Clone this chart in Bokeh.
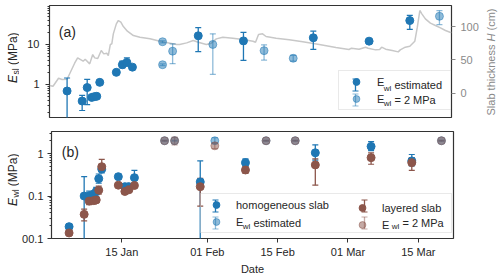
import numpy as np
import pandas as pd
from bokeh.plotting import figure
from bokeh.models import (ColumnDataSource, Whisker, TeeHead, Range1d, LinearAxis, LinearScale,
                          FixedTicker, PrintfTickFormatter, DatetimeTickFormatter, Label,
                          Legend, LegendItem)
from bokeh.layouts import column, row
from bokeh.embed import file_html
from bokeh.resources import INLINE

# ---------------- data ----------------
T0 = pd.Timestamp("2019-01-01")
T_END_DAYS = 80

# slab thickness H (cm), days since 1 Jan
h_day = [0.0, 0.7, 1.8, 2.5, 3.5, 5.0, 5.6, 6.7, 7.1, 8.0, 8.6, 9.0, 9.6, 10.3, 10.8, 11.4, 11.7,
         12.1, 12.4, 12.7, 13.3, 13.7, 14.2, 14.7, 15.5, 16.7, 18.0, 20.0, 22.0, 24.0, 25.3, 25.9,
         27.3, 28.6, 29.6, 31.2, 32.2, 33.2, 34.5, 36.5, 38.5, 40.5, 41.0, 41.6, 42.4, 43.1, 45.1,
         47.7, 50.4, 53.7, 57.0, 59.6, 60.1, 61.6, 62.9, 63.4, 64.9, 65.7, 66.1, 66.9, 68.2, 69.4,
         69.8, 70.8, 71.7, 72.7, 73.2, 73.7, 74.1, 74.8, 75.8, 76.8, 77.8, 78.8, 79.7, 80.0]
h_cm = [11.6, 10.5, 22.5, 20.5, 21, 45, 53, 48, 51, 44, 58, 53, 52, 64, 59, 60, 56.5,
        73, 74, 89, 104, 109, 106.5, 100, 93, 86.5, 84, 81.5, 78, 75, 73, 73,
        75.5, 79, 76.5, 73, 75, 81.5, 84, 82.5, 80.5, 78, 76.5, 88, 89, 85, 82.5,
        80, 77, 73, 68.5, 65.5, 67.5, 66, 69, 67.5, 65, 65.5, 69, 66, 64, 62,
        65, 69, 70.5, 78, 99, 124, 119, 111.5, 105, 101.5, 98, 94, 91.5, 91]

# (a) E_sl with E_wl estimated
sl_est_day = [3.5, 6.5, 7.5, 8.4, 8.9, 9.4, 10.0, 13.3, 14.5, 15.4, 16.5, 29.6, 38.6, 52.5, 63.6, 71.7]
sl_est = [0.68, 0.38, 0.83, 0.47, 0.49, 0.50, 1.12, 2.0, 3.1, 3.55, 2.7, 16.5, 12.3, 14.7, 12.1, 39.8]
sl_est_lo = [0.05, 0.22, 0.31, 0.43, 0.46, 0.47, 1.05, 1.9, 2.6, 2.9, 2.4, 6.6, 4.0, 7.5, 11.6, 24]
sl_est_hi = [1.44, 0.53, 1.33, 0.52, 0.53, 0.54, 1.2, 2.1, 3.8, 4.6, 3.1, 26.6, 20, 21.5, 12.7, 54]

# (a) E_sl with E_wl = 2 MPa
sl_fix_day = [22.5, 22.5, 24.5, 32.5, 42.7, 48.5, 77.6]
sl_fix = [11.7, 3.1, 6.8, 10.0, 7.0, 4.5, 51]
sl_fix_lo = [11.0, 2.95, 3.3, 1.78, 4.06, 3.8, 31.6]
sl_fix_hi = [12.4, 3.25, 10.4, 18.5, 9.8, 5.3, 71]

# (b) E_wl homogeneous / layered slab
wl_day = [3.5, 6.5, 7.5, 8.4, 8.9, 9.4, 10.0, 13.3, 14.6, 15.4, 16.5, 29.6, 38.6, 52.5, 63.6, 71.7]
wl_hom = [0.019, 0.10, 0.10, 0.11, 0.128, 0.256, 0.43, 0.285, 0.166, 0.166, 0.27, 0.215, 0.61, 1.04, 1.47, 0.67]
wl_hom_lo = [0.017, 0.003, 0.08, 0.095, 0.10, 0.20, 0.35, 0.25, 0.15, 0.15, 0.20, 0.003, 0.50, 0.70, 1.17, 0.51]
wl_hom_hi = [0.022, 0.285, 0.13, 0.13, 0.16, 0.33, 0.52, 0.33, 0.19, 0.19, 0.40, 0.67, 0.75, 1.6, 1.9, 0.95]
wl_lay = [0.0135, 0.037, 0.076, 0.078, 0.081, 0.137, 0.49, 0.18, 0.128, 0.14, 0.177, 0.166, 0.41, 0.54, 0.80, 0.61]
wl_lay_lo = [0.012, 0.026, 0.063, 0.065, 0.07, 0.11, 0.40, 0.16, 0.115, 0.125, 0.16, 0.058, 0.34, 0.18, 0.56, 0.40]
wl_lay_hi = [0.015, 0.049, 0.09, 0.09, 0.095, 0.17, 0.73, 0.20, 0.14, 0.155, 0.195, 0.26, 0.49, 0.75, 1.04, 0.80]

# (b) light markers
wl_fix_day = [22.5, 24.5, 32.5, 42.7, 48.5, 77.6]
wl_fix_hom = [2.0, 2.0, 2.0, 2.0, 2.0, 2.0]
wl_fix_hom_lo = [1.95, 1.95, 1.75, 1.95, 1.95, 1.95]
wl_fix_hom_hi = [2.05, 2.05, 2.35, 2.05, 2.05, 2.05]
wl_fix_lay = [2.0, 2.0, 1.52, 2.0, 2.0, 2.0]
wl_fix_lay_lo = [1.95, 1.6, 1.3, 1.95, 1.95, 1.95]
wl_fix_lay_hi = [2.05, 2.45, 1.75, 2.05, 2.05, 2.05]

date_ticks = ["2019-01-15", "2019-02-01", "2019-02-15", "2019-03-01", "2019-03-15"]

# ---------------- style ----------------
FONT = "Liberation Sans"
BLUE = "#1f77b4"
BROWN = "#8c564b"
LIGHT = 0.5
TXT = "#262626"
GREY_AX = "#8a8a8a"
SIDE_L = 19   # left label strip
SIDE_R = 19   # right label strip
H1, H2 = 124, 153


def to_dt(days):
    return [T0 + pd.Timedelta(days=float(d)) for d in days]


xr = Range1d(start=T0.to_pydatetime(), end=(T0 + pd.Timedelta(days=T_END_DAYS)).to_pydatetime())


def style(p):
    p.outline_line_color = "#333333"
    p.outline_line_width = 1.2
    p.xgrid.visible = False
    p.ygrid.visible = False
    p.background_fill_color = "white"
    p.border_fill_color = "white"
    for ax in p.yaxis:
        ax.axis_line_color = None
        ax.major_tick_out = 4
        ax.major_tick_in = 0
        ax.minor_tick_out = 2
        ax.minor_tick_in = 0
        ax.major_tick_line_color = "#333333"
        ax.minor_tick_line_color = "#333333"
        ax.major_label_text_font = FONT
        ax.major_label_text_font_size = "11px"
        ax.major_label_text_color = TXT
        ax.major_label_standoff = 6


def errorbars(p, days, lo, hi, color, alpha):
    src = ColumnDataSource(dict(x=to_dt(days), lo=lo, hi=hi))
    p.segment(x0="x", y0="lo", x1="x", y1="hi", source=src, line_color=color,
              line_alpha=alpha, line_width=1.3)
    for k in ("lo", "hi"):
        p.scatter(x="x", y=k, source=src, marker="dash", size=6, line_color=color,
                  line_alpha=alpha, line_width=1.2)


def points(p, days, vals, color, alpha):
    src = ColumnDataSource(dict(x=to_dt(days), y=vals))
    return p.scatter(x="x", y="y", source=src, size=8, fill_color=color, line_color=color,
                     fill_alpha=alpha, line_alpha=alpha)


def lab(p, text, x, y, size="11px", fstyle="normal", angle=0.0, baseline="alphabetic",
        color=TXT, align="left"):
    p.add_layout(Label(x=x, y=y, x_units="screen", y_units="screen", text=text,
                       text_font=FONT, text_font_size=size, text_font_style=fstyle,
                       angle=angle, text_baseline=baseline, text_align=align,
                       text_color=color, level="overlay"))


def leg_whisker(p, x, yc, color, alpha):
    src = ColumnDataSource(dict(x=[x], lo=[yc - 6], hi=[yc + 6]))
    w = Whisker(source=src, base="x", lower="lo", upper="hi", base_units="screen",
                lower_units="screen", upper_units="screen", line_color=color,
                line_alpha=alpha, line_width=1.3, level="overlay",
                upper_head=TeeHead(size=6, line_color=color, line_alpha=alpha, line_width=1.2),
                lower_head=TeeHead(size=6, line_color=color, line_alpha=alpha, line_width=1.2))
    p.add_layout(w)


def make_legend(items, loc, gw, lw, spacing, standoff, border=True):
    lg = Legend(items=items, location=loc, glyph_width=gw, glyph_height=17, label_height=17,
                label_width=lw, label_standoff=standoff, padding=2, spacing=spacing,
                margin=0, label_text_font=FONT, label_text_font_size="11px",
                label_text_color=TXT, background_fill_alpha=0)
    lg.border_line_color = "#d4d4d4" if border else None
    lg.border_line_width = 1
    return lg


def strip(width, height):
    s = figure(width=width, height=height, x_range=Range1d(0, 1), y_range=Range1d(0, 1),
               x_axis_location=None, y_axis_location=None, output_backend="svg",
               toolbar_location=None, min_border=0, min_border_left=0, min_border_right=0,
               min_border_top=0, min_border_bottom=0)
    s.outline_line_color = None
    s.xgrid.visible = False
    s.ygrid.visible = False
    s.background_fill_color = "white"
    s.border_fill_color = "white"
    return s


# ---------------- panel (a) ----------------
p1 = figure(width=500 - SIDE_L - SIDE_R, height=H1, x_axis_type="datetime", y_axis_type="log",
            x_range=xr, y_range=Range1d(0.147, 95), x_axis_location=None,
            output_backend="svg", toolbar_location=None, min_border_left=30,
            min_border_right=28, min_border_top=5, min_border_bottom=7)
p1.yaxis.ticker = FixedTicker(ticks=[0.1, 1, 10, 100],
                              minor_ticks=[0.2, 0.3, 0.4, 0.5, 0.6, 0.7, 0.8, 0.9,
                                           2, 3, 4, 5, 6, 7, 8, 9,
                                           20, 30, 40, 50, 60, 70, 80, 90])
p1.yaxis.formatter = PrintfTickFormatter(format="%g")

p1.extra_y_ranges = {"H": Range1d(-36.4, 131.5)}
p1.extra_y_scales = {"H": LinearScale()}
rax = LinearAxis(y_range_name="H", ticker=FixedTicker(ticks=[0, 50, 100], minor_ticks=[]))
p1.add_layout(rax, "right")
style(p1)
rax.major_tick_line_color = GREY_AX
rax.major_label_text_color = GREY_AX
rax.major_label_standoff = 5

hsrc = ColumnDataSource(dict(x=to_dt(h_day), h=h_cm))
p1.line(x="x", y="h", source=hsrc, y_range_name="H", line_color="#c8c8c8", line_width=1.5)

errorbars(p1, sl_fix_day, sl_fix_lo, sl_fix_hi, BLUE, LIGHT)
errorbars(p1, sl_est_day, sl_est_lo, sl_est_hi, BLUE, 1.0)
r_fix = points(p1, sl_fix_day, sl_fix, BLUE, LIGHT)
r_est = points(p1, sl_est_day, sl_est, BLUE, 1.0)

# legend (a)
lg1 = make_legend([LegendItem(label="E", renderers=[r_est]),
                   LegendItem(label="E", renderers=[r_fix])], (289, 7), 30, 72, -2, 6)
p1.add_layout(lg1)
for yc, alpha, tail in ((32.5, 1.0, "estimated"), (17.5, LIGHT, "= 2 MPa")):
    leg_whisker(p1, 306, yc, BLUE, alpha)
    lab(p1, "wl", 334.3, yc - 3, size="8px", baseline="middle")
    lab(p1, tail, 344.9, yc, baseline="middle")
lab(p1, "(a)", 9.3, 85.1, size="14px")

# side label strips (a) -- their frames align with the frame of panel (a)
la = strip(SIDE_L, H1)
lab(la, "E", 12.5, 34.5, size="12px", fstyle="italic", angle=np.pi / 2, baseline="middle")
lab(la, "sl", 15.0, 43.0, size="8.5px", angle=np.pi / 2, baseline="middle")
lab(la, "(MPa)", 12.5, 52.4, size="12px", angle=np.pi / 2, baseline="middle")

ra = strip(SIDE_R, H1)
lab(ra, "Slab thickness", 9.5, 2.0, angle=np.pi / 2, color=GREY_AX, baseline="middle")
lab(ra, "H", 9.5, 76.0, fstyle="italic", angle=np.pi / 2, color=GREY_AX, baseline="middle")
lab(ra, "(cm)", 9.5, 87.0, angle=np.pi / 2, color=GREY_AX, baseline="middle")

# ---------------- panel (b) ----------------
p2 = figure(width=500 - SIDE_L, height=H2, x_axis_type="datetime", y_axis_type="log",
            x_range=xr, y_range=Range1d(0.01, 3.3), output_backend="svg",
            toolbar_location=None, min_border_left=30, min_border_right=47,
            min_border_top=7, min_border_bottom=35)
p2.yaxis.ticker = FixedTicker(ticks=[0.01, 0.1, 1, 10],
                              minor_ticks=[0.02, 0.03, 0.04, 0.05, 0.06, 0.07, 0.08, 0.09,
                                           0.2, 0.3, 0.4, 0.5, 0.6, 0.7, 0.8, 0.9, 2, 3])
p2.yaxis.formatter = PrintfTickFormatter(format="%g")
p2.yaxis.major_label_overrides = {0.01: "00.1"}
style(p2)
p2.yaxis.major_label_standoff = 4
xax = p2.xaxis[0]
xax.ticker = FixedTicker(ticks=[pd.Timestamp(d).value / 1e6 for d in date_ticks], minor_ticks=[])
xax.formatter = DatetimeTickFormatter(days="%d %b", months="%d %b", hours="%d %b")
xax.axis_line_color = None
xax.major_tick_out = 4
xax.major_tick_in = 0
xax.major_tick_line_color = "#333333"
xax.major_label_text_font = FONT
xax.major_label_text_font_size = "11px"
xax.major_label_text_color = TXT
xax.major_label_standoff = 3
xax.axis_label = "Date"
xax.axis_label_text_font = FONT
xax.axis_label_text_font_size = "11px"
xax.axis_label_text_font_style = "normal"
xax.axis_label_text_color = TXT
xax.axis_label_standoff = 2

errorbars(p2, wl_fix_day, wl_fix_hom_lo, wl_fix_hom_hi, BLUE, LIGHT)
errorbars(p2, wl_fix_day, wl_fix_lay_lo, wl_fix_lay_hi, BROWN, LIGHT)
errorbars(p2, wl_day, wl_hom_lo, wl_hom_hi, BLUE, 1.0)
errorbars(p2, wl_day, wl_lay_lo, wl_lay_hi, BROWN, 1.0)
r_fh = points(p2, wl_fix_day, wl_fix_hom, BLUE, LIGHT)
r_fl = points(p2, wl_fix_day, wl_fix_lay, BROWN, LIGHT)
r_h = points(p2, wl_day, wl_hom, BLUE, 1.0)
r_l = points(p2, wl_day, wl_lay, BROWN, 1.0)

lg2a = make_legend([LegendItem(label="homogeneous slab", renderers=[r_h]),
                    LegendItem(label="E", renderers=[r_fh])], (149, 5), 26, 213, 0, 7)
lg2b = make_legend([LegendItem(label="layered slab", renderers=[r_l]),
                    LegendItem(label="E", renderers=[r_fl])], (298, 5), 26, 40, 0, 7,
                   border=False)
p2.add_layout(lg2a)
p2.add_layout(lg2b)
leg_whisker(p2, 164, 32.5, BLUE, 1.0)
leg_whisker(p2, 164, 15.5, BLUE, LIGHT)
leg_whisker(p2, 313, 32.5, BROWN, 1.0)
leg_whisker(p2, 313, 15.5, BROWN, LIGHT)
lab(p2, "wl", 191.3, 12.5, size="8px", baseline="middle")
lab(p2, "estimated", 201.9, 15.5, baseline="middle")
lab(p2, "wl", 340.3, 12.5, size="8px", baseline="middle")
lab(p2, "= 2 MPa", 350.9, 15.5, baseline="middle")
lab(p2, "(b)", 10.3, 86.8, size="14px")

# side label strip (b) -- frame aligns with the frame of panel (b)
lb = strip(SIDE_L, H2)
lab(lb, "E", 12.5, 32.5, size="12px", fstyle="italic", angle=np.pi / 2, baseline="middle")
lab(lb, "wl", 15.0, 41.0, size="8.5px", angle=np.pi / 2, baseline="middle")
lab(lb, "(MPa)", 12.5, 52.3, size="12px", angle=np.pi / 2, baseline="middle")

layout = column(row(la, p1, ra), row(lb, p2))
open("out.html", "w").write(file_html(layout, INLINE))
